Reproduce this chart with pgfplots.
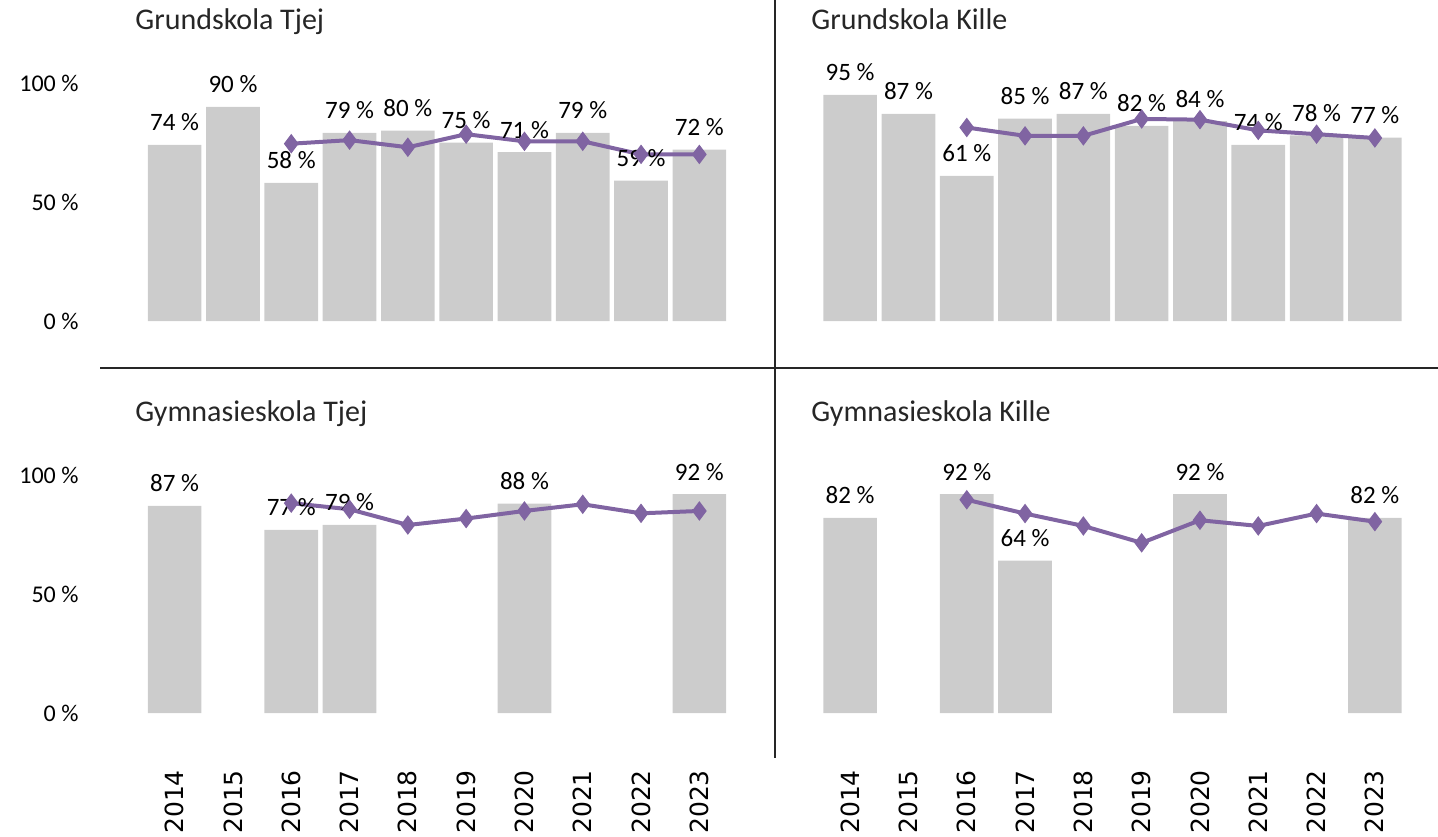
\documentclass[border=0pt]{standalone}
\usepackage{fontspec}
\setmainfont{Carlito}
\newfontfamily\yearfont{DejaVu Sans}
\usepackage{pgfplots}
\pgfplotsset{compat=1.18}
\definecolor{barg}{RGB}{204,204,204}
\definecolor{lila}{RGB}{128,100,162}
\definecolor{txt}{RGB}{38,38,38}

\pgfplotsset{
  /pgf/number format/assume math mode=true,
  panel/.style={
    scale only axis, width=291.5pt, height=119pt,
    xmin=2013.5, xmax=2023.5, ymin=0, ymax=100,
    anchor=south west, clip=false,
    axis line style={draw=none}, major tick length=0pt,
    xtick={2014,...,2023}, ytick={0,50,100},
    xticklabel={\yearfont\pgfmathprintnumber[fixed,precision=0,1000 sep={}]{\tick}},
    yticklabel={\pgfmathprintnumber{\tick}~\%},
    yticklabel style={font=\fontsize{12}{14}\selectfont, text=black, xshift=-30pt},
    xticklabel style={font=\fontsize{12.5}{14}\selectfont, text=black, rotate=90, anchor=east},
    xticklabel shift=25pt,
  },
  noxt/.style={xticklabels={}},
  noyt/.style={yticklabels={}},
  staplar/.style={ybar, bar width=0.92, fill=barg, draw=none, point meta=y,
    nodes near coords={\pgfmathprintnumber[fixed,precision=0]{\pgfplotspointmeta}~\%},
    every node near coord/.append style={font=\fontsize{12.5}{14}\selectfont, text=black, anchor=base, yshift=7pt}},
  linje/.style={lila, line width=2pt, mark=diamond*, mark size=4.5pt,
    mark options={fill=lila, draw=lila, line width=0.5pt}},
}

\begin{document}
\begin{tikzpicture}
\useasboundingbox (0,0) rectangle (719pt,-418pt);
\draw[txt, line width=1pt] (387.5pt,0) -- (387.5pt,-379pt);
\draw[txt, line width=1pt] (50pt,-184pt) -- (719pt,-184pt);

\node[anchor=base west, text=txt, font=\fontsize{15}{18}\selectfont, inner sep=0pt] at (67.5pt,-14.5pt) {Grundskola Tjej};
\node[anchor=base west, text=txt, font=\fontsize{15}{18}\selectfont, inner sep=0pt] at (405.5pt,-14.5pt) {Grundskola Kille};
\node[anchor=base west, text=txt, font=\fontsize{15}{18}\selectfont, inner sep=0pt] at (67.5pt,-210.8pt) {Gymnasieskola Tjej};
\node[anchor=base west, text=txt, font=\fontsize{15}{18}\selectfont, inner sep=0pt] at (405.5pt,-210.8pt) {Gymnasieskola Kille};

% Grundskola Tjej
\begin{axis}[panel, noxt, at={(72.75pt,-160.5pt)}]
\addplot[staplar] coordinates {(2014,74) (2015,90) (2016,58) (2017,79) (2018,80) (2019,75) (2020,71) (2021,79) (2022,59) (2023,72)};
\addplot[linje] coordinates {(2016,74.5) (2017,76) (2018,73) (2019,78.5) (2020,75.5) (2021,75.5) (2022,70) (2023,70)};
\end{axis}

% Grundskola Kille
\begin{axis}[panel, noxt, noyt, at={(410.5pt,-160.5pt)}]
\addplot[staplar] coordinates {(2014,95) (2015,87) (2016,61) (2017,85) (2018,87) (2019,82) (2020,84) (2021,74) (2022,78) (2023,77)};
\addplot[linje] coordinates {(2016,81.3) (2017,77.8) (2018,77.8) (2019,84.9) (2020,84.6) (2021,80.1) (2022,78.5) (2023,76.9)};
\end{axis}

% Gymnasieskola Tjej
\begin{axis}[panel, at={(72.75pt,-356.5pt)}]
\addplot[staplar] coordinates {(2014,87) (2016,77) (2017,79) (2020,88) (2023,92)};
\addplot[linje] coordinates {(2016,88.2) (2017,85.6) (2018,79) (2019,81.7) (2020,84.9) (2021,87.7) (2022,83.9) (2023,84.9)};
\end{axis}

% Gymnasieskola Kille
\begin{axis}[panel, noyt, at={(410.5pt,-356.5pt)}]
\addplot[staplar] coordinates {(2014,82) (2016,92) (2017,64) (2020,92) (2023,82)};
\addplot[linje] coordinates {(2016,89.6) (2017,83.8) (2018,78.6) (2019,71.5) (2020,81) (2021,78.6) (2022,83.8) (2023,80.4)};
\end{axis}
\end{tikzpicture}
\end{document}
